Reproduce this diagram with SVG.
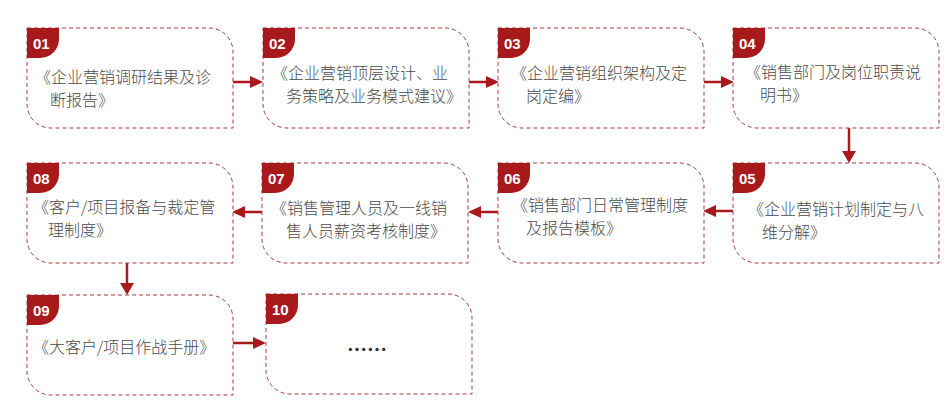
<svg xmlns="http://www.w3.org/2000/svg" width="950" height="408" viewBox="0 0 950 408">
<defs>
<style>
.box{fill:#fff;stroke:#a8383b;stroke-width:1;stroke-dasharray:4 3}
.badge{fill:#a8191c}
.num{fill:#fff;font-family:"Liberation Sans",Arial,sans-serif;font-size:15px;font-weight:bold}
.t{fill:#4a4a4a;font-family:"Noto Sans CJK SC","Noto Sans",sans-serif;font-size:16px;font-weight:300}
.ln{stroke:#a8191c;stroke-width:2.5;fill:none}
.hd{fill:#a8191c}
</style>
<path id="shape" d="M0,0 H182 A24 24 0 0 1 206,24 V100 H24 A24 24 0 0 1 0,76 Z"/>
<path id="bdg" d="M0,0 H32 V11 A19 19 0 0 1 13,30 H0 Z"/>
</defs>
<rect width="950" height="408" fill="#fff"/>
<g id="connectors">
<line class="ln" x1="233" y1="82" x2="252" y2="82"/><polygon class="hd" points="250,76 263,82 250,88"/>
<line class="ln" x1="469" y1="82" x2="488" y2="82"/><polygon class="hd" points="486,76 499,82 486,88"/>
<line class="ln" x1="704" y1="82" x2="723" y2="82"/><polygon class="hd" points="721,76 734,82 721,88"/>
<line class="ln" x1="849" y1="128" x2="849" y2="152"/><polygon class="hd" points="842,151 849,163 856,151"/>
<line class="ln" x1="733" y1="211" x2="714" y2="211"/><polygon class="hd" points="716,205 703,211 716,217"/>
<line class="ln" x1="498" y1="212" x2="479" y2="212"/><polygon class="hd" points="481,206 468,212 481,218"/>
<line class="ln" x1="262" y1="212" x2="243" y2="212"/><polygon class="hd" points="245,206 232,212 245,218"/>
<line class="ln" x1="127" y1="263" x2="127" y2="284"/><polygon class="hd" points="120,283 127,295 134,283"/>
<line class="ln" x1="233" y1="343" x2="255" y2="343"/><polygon class="hd" points="253,337 266,343 253,349"/>
</g>
<g id="n01"><use href="#shape" class="box" x="27" y="28"/><use href="#bdg" class="badge" x="27" y="28"/><text class="num" x="33" y="49">01</text>
<text class="t" x="35" y="83">《企业营销调研结果及诊</text><text class="t" x="50" y="106">断报告》</text></g>
<g id="n02"><use href="#shape" class="box" x="263" y="28"/><use href="#bdg" class="badge" x="263" y="28"/><text class="num" x="269" y="49">02</text>
<text class="t" x="272" y="79">《企业营销顶层设计、业</text><text class="t" x="286" y="102">务策略及业务模式建议》</text></g>
<g id="n03"><use href="#shape" class="box" x="498" y="28"/><use href="#bdg" class="badge" x="498" y="28"/><text class="num" x="504" y="49">03</text>
<text class="t" x="511" y="79">《企业营销组织架构及定</text><text class="t" x="526" y="102">岗定编》</text></g>
<g id="n04"><use href="#shape" class="box" x="733" y="28"/><use href="#bdg" class="badge" x="733" y="28"/><text class="num" x="739" y="49">04</text>
<text class="t" x="745" y="78">《销售部门及岗位职责说</text><text class="t" x="760" y="101">明书》</text></g>
<g id="n05"><use href="#shape" class="box" x="733" y="163"/><use href="#bdg" class="badge" x="733" y="163"/><text class="num" x="739" y="184">05</text>
<text class="t" x="748" y="215">《企业营销计划制定与八</text><text class="t" x="762" y="238">维分解》</text></g>
<g id="n06"><use href="#shape" class="box" x="498" y="163"/><use href="#bdg" class="badge" x="498" y="163"/><text class="num" x="504" y="184">06</text>
<text class="t" x="512" y="211">《销售部门日常管理制度</text><text class="t" x="526" y="234">及报告模板》</text></g>
<g id="n07"><use href="#shape" class="box" x="262" y="163"/><use href="#bdg" class="badge" x="262" y="163"/><text class="num" x="268" y="184">07</text>
<text class="t" x="271" y="214">《销售管理人员及一线销</text><text class="t" x="286" y="237">售人员薪资考核制度》</text></g>
<g id="n08"><use href="#shape" class="box" x="27" y="163"/><use href="#bdg" class="badge" x="27" y="163"/><text class="num" x="33" y="184">08</text>
<text class="t" x="33" y="213">《客户/项目报备与裁定管</text><text class="t" x="48" y="236">理制度》</text></g>
<g id="n09"><use href="#shape" class="box" x="27" y="295"/><use href="#bdg" class="badge" x="27" y="295"/><text class="num" x="33" y="316">09</text>
<text class="t" x="33" y="353">《大客户/项目作战手册》</text></g>
<g id="n10"><use href="#shape" class="box" x="266" y="294"/><use href="#bdg" class="badge" x="266" y="294"/><text class="num" x="272" y="315">10</text>
<text class="t" x="347" y="357" style="font-size:20px;font-weight:bold;fill:#333">……</text></g>
</svg>
